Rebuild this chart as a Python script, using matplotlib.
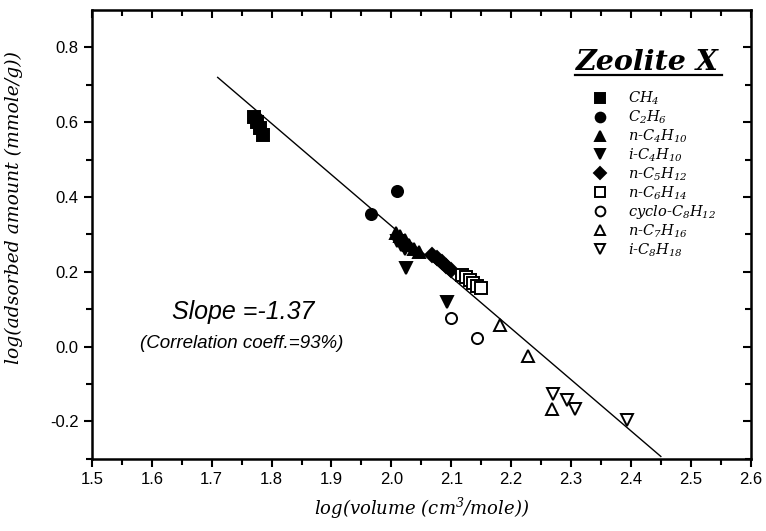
import matplotlib
matplotlib.use("Agg")
import matplotlib.pyplot as plt
import numpy as np
from matplotlib.lines import Line2D

plt.rcParams['mathtext.fontset'] = 'custom'
plt.rcParams['mathtext.rm'] = 'DejaVu Serif:italic'
plt.rcParams['mathtext.it'] = 'DejaVu Serif:italic'

# log(volume), log(adsorbed amount)
ch4_x = [1.770, 1.775, 1.780, 1.785]
ch4_y = [0.615, 0.600, 0.585, 0.565]
c2h6_x = [1.966, 2.009]
c2h6_y = [0.355, 0.415]
nc4_x = [2.008, 2.015, 2.022, 2.030, 2.038, 2.046]
nc4_y = [0.305, 0.295, 0.285, 0.272, 0.262, 0.252]
ic4_x = [2.010, 2.016, 2.022, 2.025, 2.093]
ic4_y = [0.282, 0.272, 0.262, 0.210, 0.118]
nc5_x = [2.068, 2.076, 2.084, 2.092, 2.100]
nc5_y = [0.245, 0.236, 0.226, 0.215, 0.206]
nc6_x = [2.118, 2.125, 2.131, 2.137, 2.143, 2.149]
nc6_y = [0.192, 0.186, 0.178, 0.171, 0.163, 0.158]
cyc8_x = [2.099, 2.143]
cyc8_y = [0.076, 0.022]
nc7_x = [2.181, 2.228, 2.268]
nc7_y = [0.057, -0.025, -0.168]
ic8_x = [2.270, 2.293, 2.306, 2.393]
ic8_y = [-0.126, -0.144, -0.168, -0.195]

fit_slope = -1.37
fit_x = [1.71, 2.45]
fit_y0 = 0.72

series = [
    (ch4_x, ch4_y, 's', True, r'$CH_4$'),
    (c2h6_x, c2h6_y, 'o', True, r'$C_2H_6$'),
    (nc4_x, nc4_y, '^', True, r'n-$C_4H_{10}$'),
    (ic4_x, ic4_y, 'v', True, r'i-$C_4H_{10}$'),
    (nc5_x, nc5_y, 'D', True, r'n-$C_5H_{12}$'),
    (nc6_x, nc6_y, 's', False, r'n-$C_6H_{14}$'),
    (cyc8_x, cyc8_y, 'o', False, r'cyclo-$C_8H_{12}$'),
    (nc7_x, nc7_y, '^', False, r'n-$C_7H_{16}$'),
    (ic8_x, ic8_y, 'v', False, r'i-$C_8H_{18}$'),
]

fig = plt.figure(figsize=(7.66, 5.31), dpi=100)
ax = fig.add_axes([0.120, 0.136, 0.860, 0.845])

fx = np.array(fit_x)
ax.plot(fx, fit_y0 + fit_slope * (fx - fit_x[0]), color='black', lw=1.0)

handles = []
for xs, ys, m, filled, lab in series:
    ms = 8 if m != 'D' else 7
    fc = 'black' if filled else 'white'
    ax.plot(xs, ys, linestyle='none', marker=m, markersize=ms,
            markerfacecolor=fc, markeredgecolor='black', markeredgewidth=1.4)
    handles.append(Line2D([], [], linestyle='none', marker=m, markersize=7 if m != 'D' else 6,
                          markerfacecolor=fc, markeredgecolor='black',
                          markeredgewidth=1.4, label=lab))

ax.set_xlim(1.5, 2.6)
ax.set_ylim(-0.3, 0.9)
ax.set_xticks(np.arange(1.5, 2.61, 0.1))
ax.set_xticks(np.arange(1.55, 2.6, 0.1), minor=True)
ax.set_yticks(np.arange(-0.2, 0.81, 0.2))
ax.set_yticks(np.arange(-0.3, 0.9, 0.2), minor=True)
ax.xaxis.set_major_formatter(matplotlib.ticker.FormatStrFormatter('%.1f'))
ax.yaxis.set_major_formatter(matplotlib.ticker.FormatStrFormatter('%.1f'))
ax.tick_params(which='both', direction='out', width=1.5, labelsize=12,
               labelfontfamily='Liberation Sans')
ax.tick_params(which='major', length=6)
ax.tick_params(which='minor', length=4)
for s in ax.spines.values():
    s.set_linewidth(1.8)

# inward ticks on top and right
secx = ax.secondary_xaxis('top')
secx.set_xticks(np.arange(1.5, 2.61, 0.1))
secx.set_xticks(np.arange(1.55, 2.6, 0.1), minor=True)
secx.tick_params(which='both', direction='in', width=1.5, labeltop=False)
secx.tick_params(which='major', length=6)
secx.tick_params(which='minor', length=4)
secy = ax.secondary_yaxis('right')
secy.set_yticks(np.arange(-0.2, 0.81, 0.2))
secy.set_yticks(np.arange(-0.3, 0.9, 0.2), minor=True)
secy.tick_params(which='both', direction='in', width=1.5, labelright=False)
secy.tick_params(which='major', length=6)
secy.tick_params(which='minor', length=4)

ax.set_xlabel(r'log(volume (cm$^3$/mole))', fontsize=13, family='DejaVu Serif',
              style='italic', labelpad=6)
ax.set_ylabel('log(adsorbed amount (mmole/g))', fontsize=13.5, family='DejaVu Serif',
              style='italic', labelpad=8)
ax.yaxis.set_label_coords(-0.105, 0.56)

ax.text(0.229, 0.327, 'Slope =-1.37', transform=ax.transAxes, ha='center', va='center',
        fontsize=18, style='italic', family='Liberation Sans')
ax.text(0.228, 0.258, '(Correlation coeff.=93%)', transform=ax.transAxes, ha='center',
        va='center', fontsize=13.5, style='italic', family='Liberation Sans')

ax.text(0.843, 0.883, 'Zeolite X', transform=ax.transAxes, ha='center', va='center',
        fontsize=20.5, weight='bold', style='italic', family='DejaVu Serif')
ax.plot([0.733, 0.956], [0.855, 0.855], transform=ax.transAxes, color='black',
        lw=1.6, clip_on=False)

leg = ax.legend(handles=handles, loc='upper left', bbox_to_anchor=(0.752, 0.835),
                frameon=False, handletextpad=1.4, labelspacing=0.1,
                prop={'family': 'DejaVu Serif', 'style': 'italic', 'size': 10.5},
                handlelength=1.0, borderaxespad=0)

fig.savefig('out.png', dpi=100)
